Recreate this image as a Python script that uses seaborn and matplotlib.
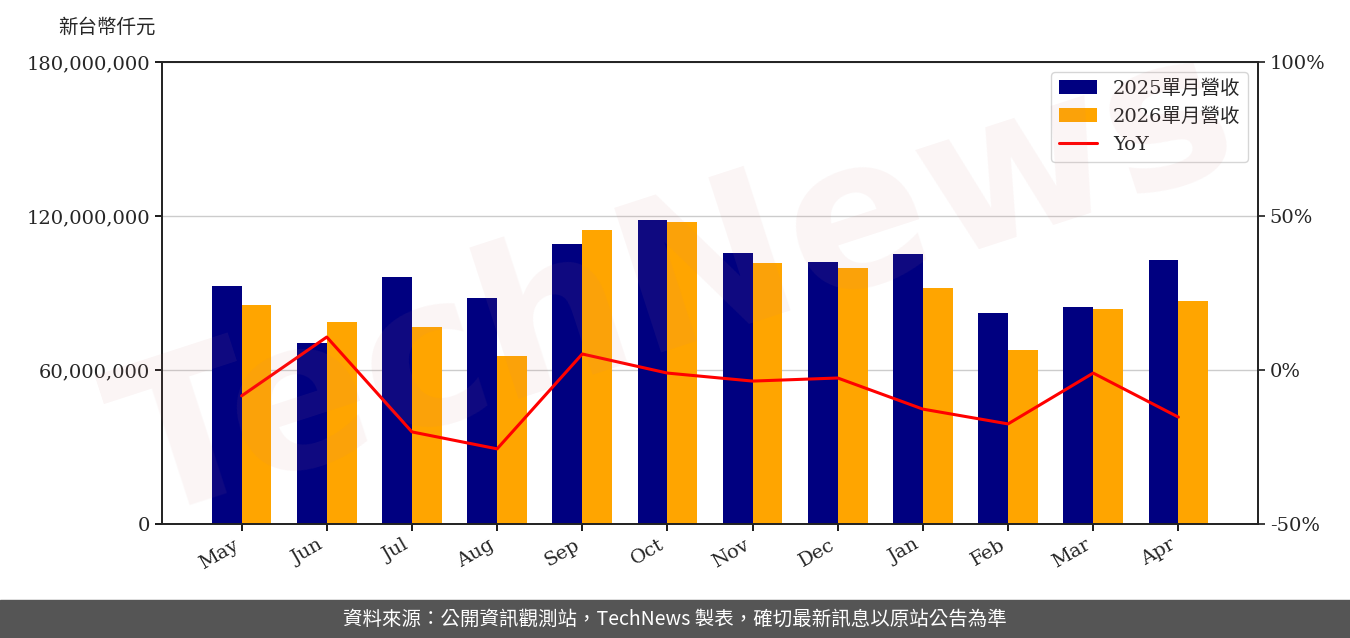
import matplotlib
matplotlib.use("Agg")
import matplotlib.pyplot as plt
import seaborn as sns
import pandas as pd
import numpy as np
from matplotlib.ticker import FuncFormatter

months = ["May","Jun","Jul","Aug","Sep","Oct","Nov","Dec","Jan","Feb","Mar","Apr"]
rev2025 = [92.7,70.5,96.2,88.0,109.1,118.4,105.6,102.1,105.2,82.2,84.5,102.8]
rev2026 = [85.3,78.7,76.7,65.4,114.5,117.6,101.7,99.7,91.9,67.8,83.8,86.9]
yoy = [-8.4,10.7,-20.1,-25.6,5.2,-1.0,-3.6,-2.6,-12.7,-17.5,-1.0,-15.3]

sns.set_theme(style="white")
plt.rcParams['font.family'] = ['DejaVu Serif', 'Noto Sans CJK TC']

df = pd.DataFrame({"month": months*2,
                   "value": [v*1e6 for v in rev2025+rev2026],
                   "series": ["2025單月營收"]*12 + ["2026單月營收"]*12})

fig = plt.figure(figsize=(13.5, 6.38), dpi=100)
ax = fig.add_axes([162/1350, 1-524/638, 1096/1350, 462/638])
sns.barplot(data=df, x="month", y="value", hue="series", ax=ax,
            palette=["#000080", "#FFA500"], width=0.7, saturation=1, legend=True, linewidth=0)
ax.set_ylim(0, 180e6)
ax.set_yticks([0, 60e6, 120e6, 180e6])
ax.yaxis.set_major_formatter(FuncFormatter(lambda v, p: f"{int(v):,}"))
ax.grid(axis="y", color="#cccccc", lw=1)
ax.set_axisbelow(True)
ax.set_xlabel(""); ax.set_ylabel("")
for s in ax.spines.values():
    s.set_color("black"); s.set_linewidth(1.2)
ax.tick_params(axis="both", labelsize=14, length=5, color="black", direction="out", left=True, bottom=True)
plt.setp(ax.get_xticklabels(), rotation=30, ha="right")

ax2 = ax.twinx()
ax2.plot(range(12), yoy, color="red", lw=2.2, label="YoY")
ax2.set_ylim(-50, 100)
ax2.set_yticks([-50, 0, 50, 100])
ax2.yaxis.set_major_formatter(FuncFormatter(lambda v, p: f"{int(v)}%"))
ax2.tick_params(axis="y", labelsize=14, length=5, right=True)
ax2.grid(False)

h1, l1 = ax.get_legend_handles_labels()
h2, l2 = ax2.get_legend_handles_labels()
ax.get_legend().remove()
ax2.legend(h1+h2, l1+l2, loc="upper right", fontsize=14, frameon=True, edgecolor="#cccccc", fancybox=True)

fig.text(0.5, 0.55, "TechNews", fontsize=150, color="#d08080", alpha=0.08,
         rotation=18, ha="center", va="center", family="DejaVu Sans", weight="bold")

fig.text(58/1350, 1-27/638, "新台幣仟元", fontsize=14, va="center", family=["Noto Sans CJK TC"])
fig.patches.append(plt.Rectangle((0, 0), 1, 38/638, transform=fig.transFigure, color="#555555", zorder=0))
fig.text(0.5, 19/638, "資料來源：公開資訊觀測站，TechNews 製表，確切最新訊息以原站公告為準",
         color="white", fontsize=14, ha="center", va="center", family=["Noto Sans CJK TC"])

fig.savefig("out.png", dpi=100)
